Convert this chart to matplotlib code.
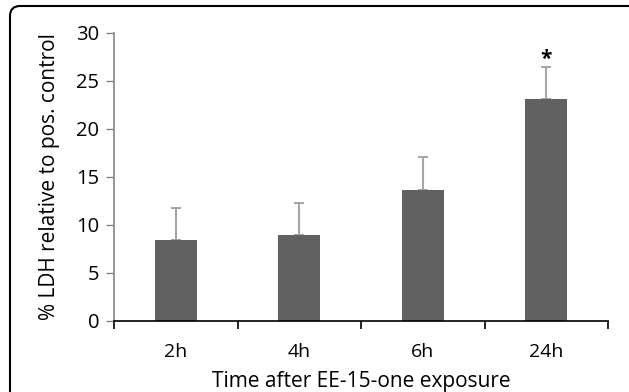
import matplotlib
matplotlib.use("Agg")
import matplotlib.pyplot as plt
from matplotlib.patches import FancyBboxPatch
import numpy as np

categories = ["2h", "4h", "6h", "24h"]
values = [8.45, 8.95, 13.65, 23.1]
errors = [3.35, 3.35, 3.45, 3.4]
yticks = [0, 5, 10, 15, 20, 25, 30]

plt.rcParams['font.family'] = ['Open Sans', 'DejaVu Sans']

fig = plt.figure(figsize=(6.29, 3.92), dpi=100)
ax = fig.add_axes([114/629, 1-321/392, (608-114)/629, (321-33)/392])

x = np.arange(len(categories))
ax.bar(x, values, width=0.34, color="#616161", zorder=2)
ax.errorbar(x, values, yerr=[np.zeros(len(values)), errors], fmt='none',
            ecolor="#a6a6a6", elinewidth=1.5, capsize=3.5, capthick=1.5, zorder=1)
ax.text(x[3], values[3] + errors[3] + 0.15, "*", ha='center', va='baseline',
        fontsize=15, fontweight='bold', zorder=3)

ax.set_xlim(-0.5, len(categories) - 0.5)
ax.set_ylim(0, 30)
ax.set_yticks(yticks)
ax.set_xticks(x)
ax.set_xticklabels(categories)
ax.set_xticks(np.arange(-0.5, len(categories), 1.0), minor=True)
ax.tick_params(axis='x', which='major', length=0, pad=16, labelsize=14)
ax.tick_params(axis='x', which='minor', length=6, width=1.2, direction='out', color='black')
ax.tick_params(axis='y', length=6, width=1, color='#868686', labelsize=14.5, pad=4.5)

for s in ['top', 'right']:
    ax.spines[s].set_visible(False)
ax.spines['left'].set_color('#868686')
ax.spines['left'].set_linewidth(1.2)
ax.spines['bottom'].set_color('black')
ax.spines['bottom'].set_linewidth(1.2)

ax.set_ylabel("% LDH relative to pos. control", fontsize=15, labelpad=12)
ax.set_xlabel("Time after EE-15-one exposure", fontsize=15, labelpad=7)

frame = FancyBboxPatch((10/629, -0.2), 700/629, 1.2 - 6/392,
                       boxstyle="round,pad=0,rounding_size=0.016",
                       transform=fig.transFigure, fill=False, edgecolor='black',
                       linewidth=1.5, mutation_aspect=629/392)
fig.patches.append(frame)

fig.savefig("out.png", dpi=100)
